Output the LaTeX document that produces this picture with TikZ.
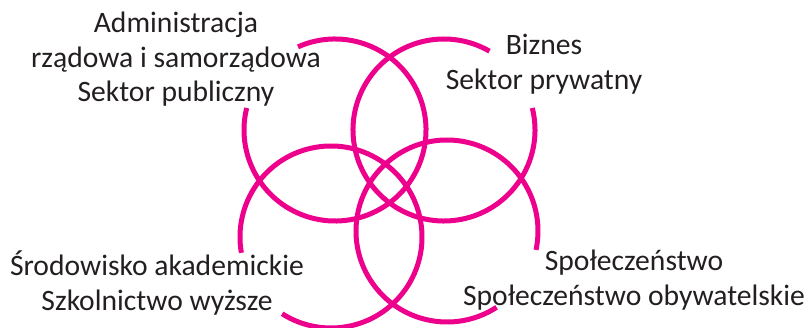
\documentclass[tikz,border=0pt]{standalone}
\usepackage{fontspec}
\setmainfont{Carlito}
\definecolor{ringmag}{HTML}{EC008C}
\definecolor{txtgray}{HTML}{231F20}
\begin{document}
\begin{tikzpicture}[x=1pt,y=-1pt,
  ring/.style={draw=ringmag,line width=5pt},
  lbl/.style={anchor=base,inner sep=0pt,text=txtgray,font=\fontsize{29.6}{34}\selectfont}]
\useasboundingbox (0,0) rectangle (809,328);
% circles (centres as named coordinates)
\coordinate (ctl) at (335,130);
\coordinate (ctr) at (444,130);
\coordinate (cbl) at (331,237);
\coordinate (cbr) at (447,231);
\draw[ring] ([shift={(-114:91)}]ctl) arc[start angle=-114,end angle=194,radius=91];
\draw[ring] ([shift={(-14:91)}]ctr) arc[start angle=-14,end angle=300,radius=91];
\draw[ring] ([shift={(170:91)}]cbl) arc[start angle=170,end angle=482.5,radius=91];
\draw[ring] ([shift={(57:91)}]cbr) arc[start angle=57,end angle=372,radius=91];
% labels
\node[lbl] (a1) at (176,33) {Administracja};
\node[lbl] (a2) at (176,68) {rządowa i samorządowa};
\node[lbl] (a3) at (176,102) {Sektor publiczny};
\node[lbl] (b1) at (544,55) {Biznes};
\node[lbl] (b2) at (544,90) {Sektor prywatny};
\node[lbl] (c1) at (157,276) {Środowisko akademickie};
\node[lbl] (c2) at (157,311) {Szkolnictwo wyższe};
\node[lbl] (d1) at (634,271) {Społeczeństwo};
\node[lbl] (d2) at (634,306) {Społeczeństwo obywatelskie};
\end{tikzpicture}
\end{document}
